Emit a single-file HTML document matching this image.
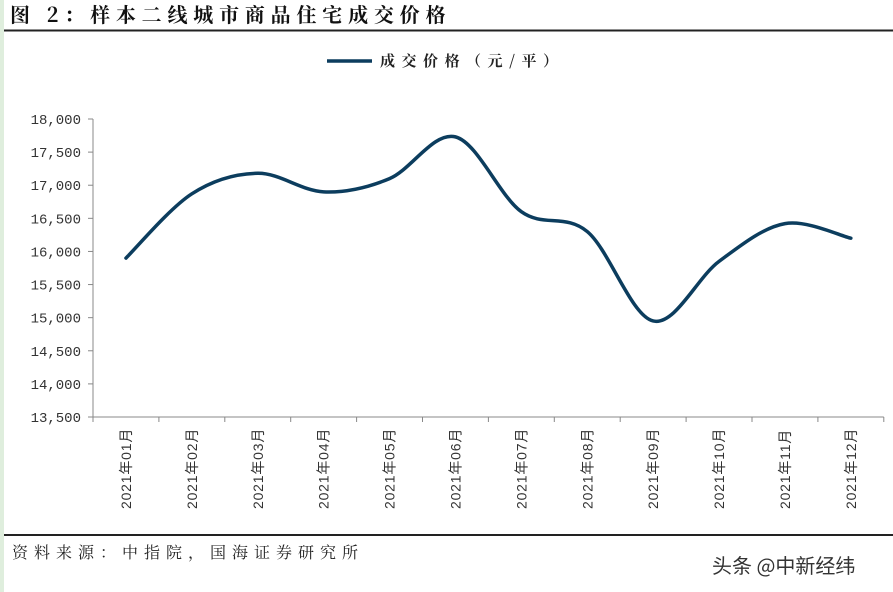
<!DOCTYPE html>
<html><head><meta charset="utf-8"><style>
body{margin:0;width:893px;height:592px;background:#fff;overflow:hidden;font-family:"Liberation Sans","Noto Sans CJK SC",sans-serif}
</style></head><body>
<svg width="893" height="592" xmlns="http://www.w3.org/2000/svg" style="position:absolute;left:0;top:0">
<rect x="0" y="0" width="4" height="592" fill="#dfeedd"/>
<text x="10" y="22" font-family="'Noto Serif CJK SC','Noto Sans CJK SC',sans-serif" font-weight="bold" font-size="20" letter-spacing="5.8" fill="#111">图 2：样本二线城市商品住宅成交价格</text>
<line x1="4" y1="30.5" x2="893" y2="30.5" stroke="#222" stroke-width="2"/>
<line x1="327" y1="61" x2="372" y2="61" stroke="#0c3d5e" stroke-width="3.5"/>
<text x="380" y="66" font-family="'Noto Serif CJK SC','Noto Sans CJK SC',sans-serif" font-weight="bold" font-size="15" letter-spacing="6.5" fill="#222">成交价格（元/平）</text>
<g id="ax" stroke="#888" stroke-width="1" fill="none"></g>
<g id="lab" font-family="'Liberation Mono',monospace" font-size="14" fill="#333"></g>
<path id="ln" fill="none" stroke="#0c3d5e" stroke-width="3.5" stroke-linecap="round"/>
<line x1="4" y1="535" x2="893" y2="535" stroke="#222" stroke-width="2"/>
<text x="12" y="558" font-family="'Noto Serif CJK SC','Noto Sans CJK SC',sans-serif" font-size="16" letter-spacing="6" fill="#222">资料来源：中指院，国海证券研究所</text>
<text x="712" y="573" font-family="'Noto Sans CJK SC',sans-serif" font-size="20" fill="#333">头条 @中新经纬</text>
</svg>
<script>
var ns="http://www.w3.org/2000/svg";
function el(t,a,p,txt){var e=document.createElementNS(ns,t);for(var k in a)e.setAttribute(k,a[k]);if(txt)e.textContent=txt;document.getElementById(p).appendChild(e);return e;}
var x0=93,dx=65.9,yT=119,yB=417;
function Y(v){return yT+(18000-v)*(yB-yT)/4500;}
el("line",{x1:x0,y1:yT,x2:x0,y2:yB},"ax");
el("line",{x1:x0,y1:yB,x2:x0+12*dx,y2:yB},"ax");
for(var v=13500;v<=18000;v+=500){var y=Y(v);el("line",{x1:x0-5,y1:y,x2:x0,y2:y},"ax");
el("text",{x:x0-12,y:y+5,"text-anchor":"end"},"lab",(""+v).replace(/(\d+)(\d{3})$/,"$1,$2"));}
for(var i=0;i<=12;i++){var x=x0+i*dx;el("line",{x1:x,y1:yB,x2:x,y2:yB+5},"ax");}
for(var i=0;i<12;i++){var cx=x0+dx*(i+0.5);var m=(i+1<10?"0":"")+(i+1);
el("text",{x:0,y:0,transform:"translate("+(cx+5)+",509) rotate(-90)","font-family":"'Liberation Sans','Noto Sans CJK SC',sans-serif","font-size":"14","letter-spacing":"0.8"},"lab","2021年"+m+"月");}
var d=[15900,16870,17180,16900,17100,17730,16600,16300,14950,15850,16420,16200];
var P=d.map(function(v,i){return [x0+dx*(i+0.5),Y(v)];});
var s="M"+P[0][0]+","+P[0][1];
for(var i=0;i<P.length-1;i++){var p0=P[i-1]||P[i],p1=P[i],p2=P[i+1],p3=P[i+2]||p2;
var c1=[p1[0]+(p2[0]-p0[0])/6,p1[1]+(p2[1]-p0[1])/6],c2=[p2[0]-(p3[0]-p1[0])/6,p2[1]-(p3[1]-p1[1])/6];
s+=" C"+c1+" "+c2+" "+p2;}
document.getElementById("ln").setAttribute("d",s);
</script>
</body></html>
